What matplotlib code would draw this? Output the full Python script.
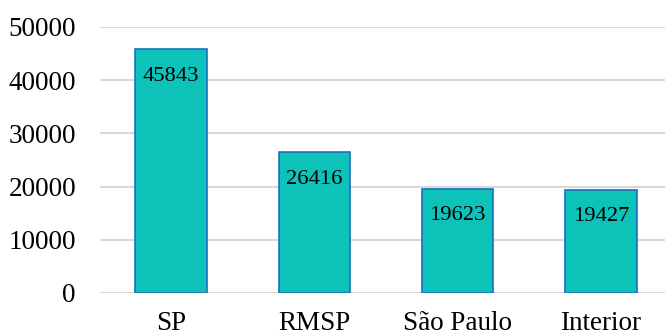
import matplotlib
matplotlib.use("Agg")
import matplotlib.pyplot as plt

categories = ["SP", "RMSP", "São Paulo", "Interior"]
values = [45843, 26416, 19623, 19427]
yticks = [0, 10000, 20000, 30000, 40000, 50000]

plt.rcParams["font.family"] = ["Liberation Serif", "DejaVu Serif"]

fig = plt.figure(figsize=(6.65, 3.35), dpi=100)
ax = fig.add_axes([99.5 / 665, 42 / 335, 573 / 665, 266 / 335])

x = range(len(categories))
bars = ax.bar(x, values, width=0.5, color="#0CC2B9", edgecolor="#1D6FC2",
              linewidth=1.2, zorder=3)

for xi, v in zip(x, values):
    ax.annotate(str(v), xy=(xi, v), xytext=(0, -27), textcoords="offset pixels",
                ha="center", va="center", fontsize=16.2, color="black", zorder=4)

ax.set_xlim(-0.5, len(categories) - 0.5)
ax.set_ylim(0, 50000)
ax.set_yticks(yticks)
ax.set_yticklabels([str(t) for t in yticks])
ax.set_xticks(list(x))
ax.set_xticklabels(categories)
ax.tick_params(axis="both", length=0, labelsize=19.5)
ax.tick_params(axis="y", pad=17)
ax.tick_params(axis="x", pad=13)
ax.grid(axis="y", color="#D9D9D9", linewidth=1.5, zorder=0)
for s in ax.spines.values():
    s.set_visible(False)

fig.savefig("out.png", dpi=100)
